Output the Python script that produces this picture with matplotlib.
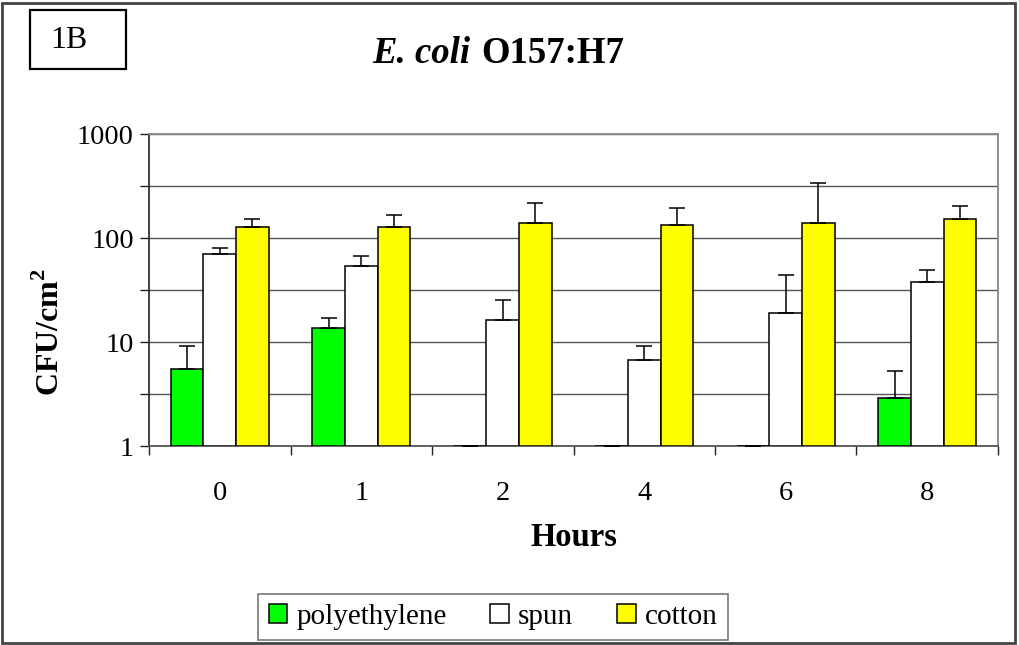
import numpy as np
import matplotlib
matplotlib.use("Agg")
import matplotlib.pyplot as plt
from matplotlib.patches import Rectangle

plt.rcParams['font.family'] = ['Liberation Serif', 'DejaVu Serif']
plt.rcParams['mathtext.fontset'] = 'custom'
plt.rcParams['mathtext.rm'] = 'Liberation Serif'
plt.rcParams['mathtext.bf'] = 'Liberation Serif:bold'

# ---- data ----
hours = ['0', '1', '2', '4', '6', '8']
series = ['polyethylene', 'spun', 'cotton']
colors = ['#00FF00', '#FFFFFF', '#FFFF00']
polyethylene = [5.5, 13.5, 1.0, 1.0, 1.0, 2.9]
polyethylene_err_top = [9.2, 17.1, 1.0, 1.0, 1.0, 5.3]
spun = [70, 54, 16.3, 6.7, 19.1, 37.5]
spun_err_top = [79.5, 67.6, 25.5, 9.2, 44, 49.5]
cotton = [127, 127, 138, 133, 138, 153]
cotton_err_top = [153, 166, 219, 195, 337, 204]

values = [polyethylene, spun, cotton]
err_tops = [polyethylene_err_top, spun_err_top, cotton_err_top]

fig = plt.figure(figsize=(10.19, 6.45), dpi=100)
ax = fig.add_axes([149/1019, 1-446/645, (998-149)/1019, (446-134)/645])

x = np.arange(len(hours))
w = 0.23
offsets = [-w, 0, w]
for vals, tops, col, off, name in zip(values, err_tops, colors, offsets, series):
    vals = np.array(vals, float)
    tops = np.array(tops, float)
    ax.bar(x + off, vals - 1, bottom=1, width=w, color=col, edgecolor='black',
           linewidth=1.1, label=name, zorder=3)
    ax.errorbar(x + off, vals, yerr=[np.zeros_like(vals), tops - vals],
                fmt='none', ecolor='black', elinewidth=1.1, capsize=5.5,
                capthick=1.1, zorder=4)

ax.set_yscale('log')
ax.set_ylim(1, 1000)
ax.set_xlim(-0.5, len(hours) - 0.5)

yt = 10 ** np.arange(0, 3.01, 0.5)
ax.set_yticks(yt)
ax.set_yticklabels(['1', '', '10', '', '100', '', '1000'])
ax.yaxis.set_minor_locator(matplotlib.ticker.NullLocator())
ax.tick_params(axis='y', which='major', direction='out', length=6.5, width=1,
               labelsize=20.5, pad=4.5, colors='#222222', labelcolor='black')
ax.grid(axis='y', color='#555555', linewidth=1, zorder=0)

ax.set_xticks(np.arange(-0.5, len(hours), 1.0))
ax.set_xticklabels([])
ax.set_xticks(x, minor=True)
ax.set_xticklabels(hours, minor=True)
ax.tick_params(axis='x', which='major', direction='out', length=6.5, width=1,
               colors='#222222')
ax.tick_params(axis='x', which='minor', length=0, labelsize=20.5, pad=25.5)

for s in ['top', 'right']:
    ax.spines[s].set_color('#888888')
    ax.spines[s].set_linewidth(1.3)
ax.spines['left'].set_color('#333333')
ax.spines['bottom'].set_color('#555555')
ax.spines['left'].set_linewidth(1.3)
ax.spines['bottom'].set_linewidth(1.3)

ax.set_xlabel('Hours', fontsize=23.5, fontweight='bold', labelpad=11)
fig.text(50/1019, 1-332/645, r'CFU/cm$^{\mathbf{2}}$', rotation=90, fontsize=23,
         fontweight='bold', ha='center', va='center')

# title
fig.text(470/1019, 1-63/645, 'E. coli', fontsize=26.5, fontweight='bold',
         fontstyle='italic', ha='right', va='baseline')
fig.text(481/1019, 1-63/645, 'O157:H7', fontsize=26.5, fontweight='bold',
         ha='left', va='baseline')

# panel label box
fig.patches.append(Rectangle((30/1019, 1-69/645), 96/1019, 59/645,
                             transform=fig.transFigure, fill=False,
                             edgecolor='black', linewidth=1.6))
fig.text(69/1019, 1-41/645, '1B', fontsize=23, ha='center', va='center')

# figure border
fig.patches.append(Rectangle((2/1019, 2/645), 1013/1019, 640/645,
                             transform=fig.transFigure, fill=False,
                             edgecolor='#444444', linewidth=2))

leg = ax.legend(loc='center', bbox_to_anchor=(493/1019, 1-617/645),
                bbox_transform=fig.transFigure, ncol=3, fontsize=21,
                frameon=True, fancybox=False, edgecolor='#555555',
                handlelength=0.65, handleheight=0.65, handletextpad=0.3,
                columnspacing=1.5, borderpad=0.35, borderaxespad=0)
leg.get_frame().set_linewidth(1.2)

fig.savefig('out.png', dpi=100)
